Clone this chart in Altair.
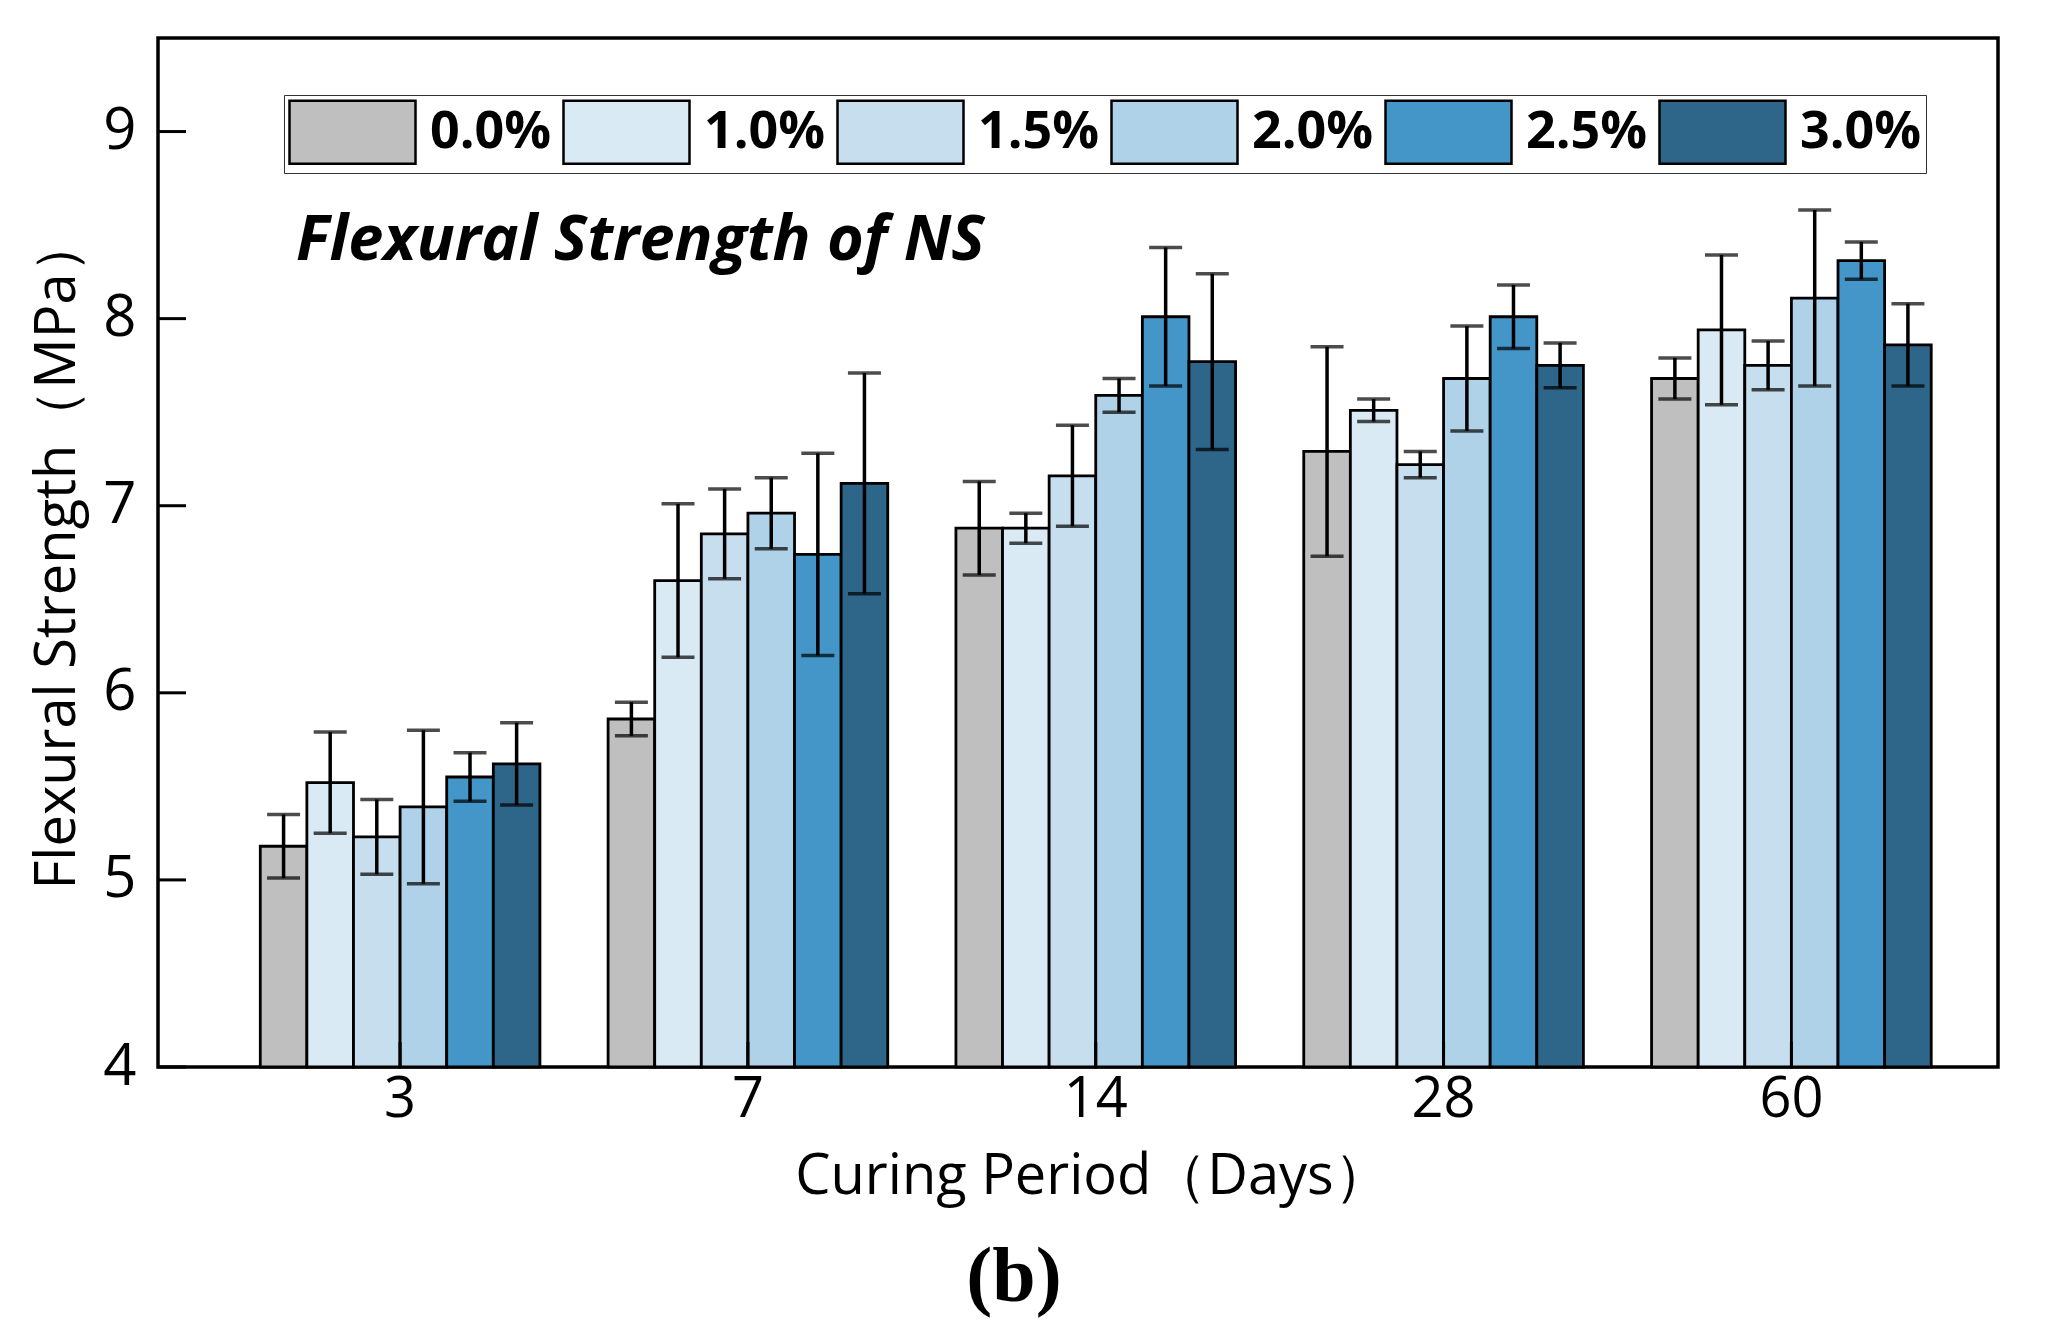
import altair as alt
import pandas as pd

days = ["3", "7", "14", "28", "60"]
concs = ["0.0%", "1.0%", "1.5%", "2.0%", "2.5%", "3.0%"]
colors = ["#BFBFBF", "#DAEAF4", "#C7DEEE", "#B0D2E8", "#4596C8", "#2D6688"]

# mean flexural strength (MPa) per concentration, over days 3, 7, 14, 28, 60
m00 = [5.18, 5.86, 6.88, 7.29, 7.68]
m10 = [5.52, 6.60, 6.88, 7.51, 7.94]
m15 = [5.23, 6.85, 7.16, 7.22, 7.75]
m20 = [5.39, 6.96, 7.59, 7.68, 8.11]
m25 = [5.55, 6.74, 8.01, 8.01, 8.31]
m30 = [5.62, 7.12, 7.77, 7.75, 7.86]
# error (half range of error bar)
e00 = [0.17, 0.09, 0.25, 0.56, 0.11]
e10 = [0.27, 0.41, 0.08, 0.06, 0.40]
e15 = [0.20, 0.24, 0.27, 0.07, 0.13]
e20 = [0.41, 0.19, 0.09, 0.28, 0.47]
e25 = [0.13, 0.54, 0.37, 0.17, 0.10]
e30 = [0.22, 0.59, 0.47, 0.12, 0.22]

y_ticks = [4, 5, 6, 7, 8, 9]
title_text = "Flexural Strength of NS"
x_title = "Curing Period（Days）"
y_title = "Flexural Strength（MPa）"
caption = "(b)"

means = [m00, m10, m15, m20, m25, m30]
errs = [e00, e10, e15, e20, e25, e30]
rows = []
for c, ms, es in zip(concs, means, errs):
    for d, m, e in zip(days, ms, es):
        rows.append({"day": d, "conc": c, "mean": m, "lo": m - e, "hi": m + e})
df = pd.DataFrame(rows)

W, H = 1840, 1029
FONT = "Open Sans"

xscale = alt.Scale(domain=days, paddingInner=0.196, paddingOuter=0.243, align=0.605)
oscale = alt.Scale(domain=concs, paddingInner=0, paddingOuter=0)
yscale = alt.Scale(domain=[4, 9.5], nice=False, zero=False)

XAX = alt.Axis(title=x_title, labelAngle=0, ticks=False, domain=False,
               labelFont=FONT, labelFontSize=56, labelColor="black",
               labelPadding=5, titleFont=FONT, titleFontSize=56,
               titleFontWeight="normal", titleColor="black",
               titleX=934, titleY=126, titleBaseline="alphabetic")
YAX = alt.Axis(title=y_title, values=y_ticks, ticks=False, domain=False,
               grid=False, labelFont=FONT, labelFontSize=58,
               labelColor="black", labelPadding=22,
               titleFont=FONT, titleFontSize=56, titleFontWeight="normal",
               titleColor="black", titleAngle=270, titleX=-84, titleY=515,
               titleBaseline="alphabetic")

X = alt.X("day:N", sort=days, scale=xscale, axis=XAX)
XO = alt.XOffset("conc:N", sort=concs, scale=oscale)

bars = alt.Chart(df).mark_bar(stroke="black", strokeWidth=2.8, opacity=1).encode(
    x=X,
    xOffset=XO,
    y=alt.Y("mean:Q", scale=yscale, axis=YAX),
    y2=alt.datum(4),
    color=alt.Color("conc:N", sort=concs, scale=alt.Scale(domain=concs, range=colors),
                    legend=alt.Legend(title=None, orient="none", legendX=126, legendY=57,
                                      direction="horizontal", columns=6,
                                      symbolType="M-1,-1H3V1H-1Z", symbolSize=3969,
                                      symbolStrokeColor="black", symbolStrokeWidth=2.5,
                                      symbolOpacity=1, labelFont=FONT, labelFontSize=52,
                                      labelFontWeight="bold", labelColor="black",
                                      labelOffset=76, columnPadding=6, gridAlign="all",
                                      fillColor="white", strokeColor="#333333",
                                      padding=4, labelLimit=400)),
)

err = alt.Chart(df).mark_rule(color="black", strokeWidth=3.5).encode(
    x=X,
    xOffset=XO,
    y=alt.Y("lo:Q", scale=yscale, axis=YAX),
    y2="hi:Q",
)
cap_hi = alt.Chart(df).mark_tick(color="black", size=33, thickness=3.5, orient="horizontal").encode(
    x=X,
    xOffset=XO,
    y=alt.Y("hi:Q", scale=yscale, axis=YAX),
)
cap_lo = alt.Chart(df).mark_tick(color="black", size=33, thickness=3.5, orient="horizontal").encode(
    x=X,
    xOffset=XO,
    y=alt.Y("lo:Q", scale=yscale, axis=YAX),
)

ytick = alt.Chart(pd.DataFrame({"v": y_ticks})).mark_rule(color="black", strokeWidth=3).encode(
    y=alt.Y("v:Q", scale=yscale, axis=YAX),
    x=alt.value(0), x2=alt.value(28),
)
xtick = alt.Chart(pd.DataFrame({"day": days})).mark_rule(color="black", strokeWidth=3).encode(
    x=X,
    y=alt.value(H), y2=alt.value(H - 25),
)

label = alt.Chart(pd.DataFrame({"t": [title_text]})).mark_text(
    font=FONT, fontSize=63, fontWeight="bold", fontStyle="italic", color="black",
    align="left", baseline="alphabetic").encode(
    x=alt.value(138), y=alt.value(222), text="t:N")

cap_text = alt.Chart(pd.DataFrame({"t": [caption]})).mark_text(
    font="Liberation Serif", fontSize=78, fontWeight="bold", color="black",
    align="center", baseline="alphabetic").encode(
    x=alt.value(856), y=alt.value(1263), text="t:N")

chart = alt.layer(bars, err, cap_hi, cap_lo, ytick, xtick, label, cap_text).properties(
    width=W, height=H,
    autosize=alt.AutoSizeParams(type="none"),
    padding={"left": 150, "top": 30, "right": 40, "bottom": 258},
    background="white",
).configure_view(stroke="black", strokeWidth=3.5).configure_axis(grid=False)

chart.save("out.html", embed_options={"renderer": "svg", "actions": False})
